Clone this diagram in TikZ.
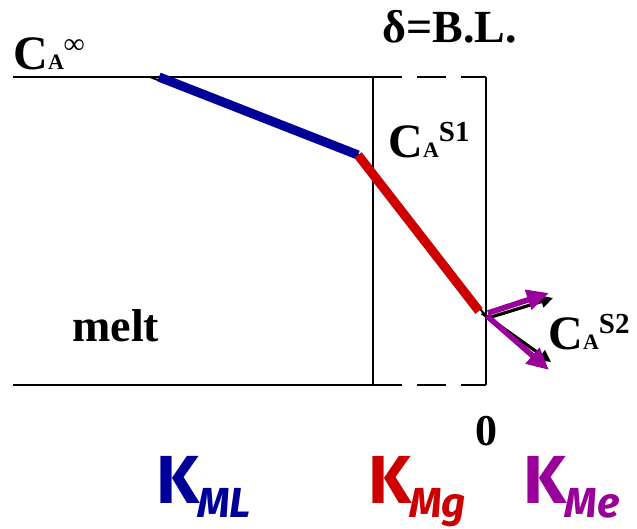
\documentclass[tikz,border=0pt]{standalone}
\usepackage{fontspec}
\setmainfont{Liberation Serif}
\newfontfamily\kfont{Fira Sans}
\usetikzlibrary{arrows.meta}
\definecolor{mlblue}{RGB}{0,0,153}
\definecolor{mgred}{RGB}{204,0,0}
\definecolor{mepurple}{RGB}{153,0,153}
\newcommand{\concA}[1]{{\fontsize{24}{24}\selectfont C}{\fontsize{11}{11}\selectfont A}\raisebox{8pt}{\fontsize{14.5}{14.5}\selectfont #1}}
\newcommand{\kcoef}[1]{{\fontsize{34}{34}\selectfont K}\kern-1pt\raisebox{-7pt}{\fontsize{21}{21}\selectfont\itshape #1}}
\begin{document}
\begin{tikzpicture}[x=0.5pt,y=-0.5pt,
  wall/.style={line width=1.4pt},
  film/.style={wall,dash pattern=on 14.5pt off 7.5pt},
  profile/.style={line width=4.6pt},
  lab/.style={inner sep=0pt,anchor=base west,font=\bfseries},
  klab/.style={inner sep=0pt,anchor=base west,font=\kfont\bfseries},
  flux/.style={line width=2.8pt,mepurple,-{Triangle[length=11pt,width=10pt]}},
  fluxbk/.style={line width=1.6pt,black,-{Triangle[length=6pt,width=6pt]}}]
  \useasboundingbox (0,0) rectangle (637,529);
  % boundaries of melt and boundary layer
  \coordinate (tl) at (13,77);   \coordinate (bl) at (13,385);
  \coordinate (tm) at (373,77);  \coordinate (bm) at (373,385);
  \coordinate (tr) at (486,77);  \coordinate (br) at (486,385);
  \draw[wall] (tl) -- (tm) -- (bm) -- (bl);
  \draw[film] (tm) -- (tr);
  \draw[film] (bm) -- (br);
  \draw[wall] (tr) -- (br);
  % concentration profile
  \coordinate (p0) at (150,77);
  \coordinate (p1) at (159,77);
  \coordinate (p2) at (358,155);
  \coordinate (p3) at (479,311);
  \coordinate (si) at (485,315);
  \draw[line width=1pt] (p0) -- (p2) -- (si);
  \draw[profile,mlblue] (p1) -- (p2);
  \draw[profile,mgred] (p2) -- (p3);
  % fluxes at the surface
  \coordinate (f1) at (553,298);
  \coordinate (f2) at (551,362);
  \coordinate (g1) at (549,293);
  \coordinate (g2) at (549,370);
  \draw[fluxbk] (488,318) -- (f1);
  \draw[fluxbk] (482,313) -- (f2);
  \draw[flux] (488,313) -- (g1);
  \draw[flux] (487,316) -- (g2);
  % labels
  \node[lab] (cinf) at (13,70) {\concA{∞}};
  \node[lab] (cs1) at (388,158) {\concA{S1}};
  \node[lab] (cs2) at (548,350) {\concA{S2}};
  \node[lab,font=\bfseries\fontsize{23}{23}\selectfont] (bl) at (382,43) {δ=B.L.};
  \node[lab,font=\bfseries\fontsize{23}{23}\selectfont] (melt) at (72,341) {melt};
  \node[lab,font=\bfseries\fontsize{22}{22}\selectfont] (zero) at (475,445) {0};
  \node[klab,text=mlblue] (kml) at (156,503) {\kcoef{ML}};
  \node[klab,text=mgred] (kmg) at (368,503) {\kcoef{Mg}};
  \node[klab,text=mepurple] (kme) at (523,503) {\kcoef{Me}};
\end{tikzpicture}
\end{document}
